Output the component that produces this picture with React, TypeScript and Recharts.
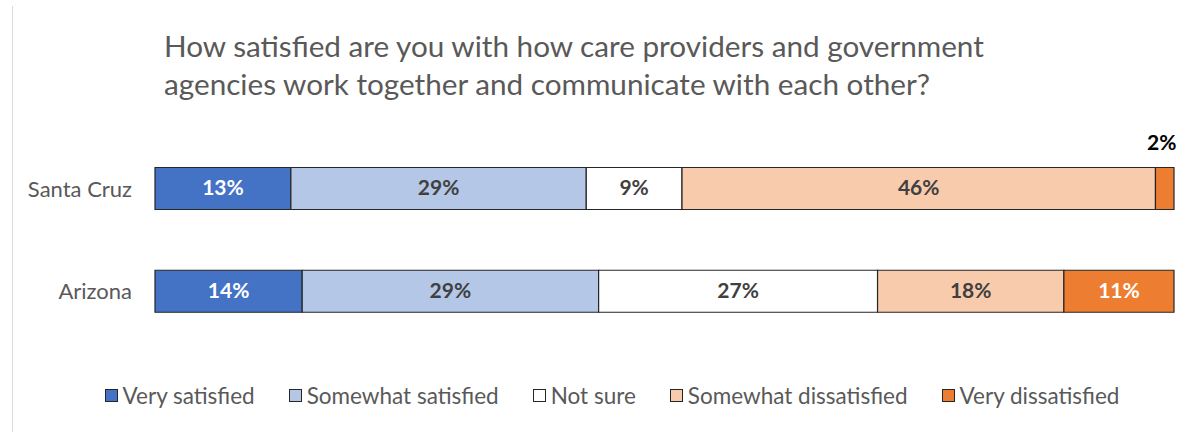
import React from "react"
import { BarChart, Bar, XAxis, YAxis, Legend, LabelList } from "recharts"

const categories = ["Santa Cruz", "Arizona"]
const verySatisfied = [13.2, 14.3]
const somewhatSatisfied = [28.7, 28.8]
const notSure = [9.3, 27.1]
const somewhatDissatisfied = [46.0, 18.1]
const veryDissatisfied = [1.8, 10.7]

const series = [
  { key: "vs", name: "Very satisfied", values: verySatisfied, fill: "#4472C4", text: "#FFFFFF" },
  { key: "ss", name: "Somewhat satisfied", values: somewhatSatisfied, fill: "#B4C7E7", text: "#404040" },
  { key: "ns", name: "Not sure", values: notSure, fill: "#FFFFFF", text: "#404040" },
  { key: "sd", name: "Somewhat dissatisfied", values: somewhatDissatisfied, fill: "#F8CBAD", text: "#404040" },
  { key: "vd", name: "Very dissatisfied", values: veryDissatisfied, fill: "#ED7D31", text: "#FFFFFF" },
]

const data = categories.map((name, i) => {
  const row: Record<string, any> = { name }
  series.forEach((s) => (row[s.key] = s.values[i]))
  return row
})

const FONT = "Lato, 'Open Sans', sans-serif"

const makeLabel = (color: string) => (props: any) => {
  const { x, y, width, height, value } = props
  const text = `${Math.round(value)}%`
  if (value < 5) {
    return (
      <text x={x + width / 2 - 3} y={y - 18} fill="#000" fontSize={21} fontWeight={700}
        textAnchor="middle" fontFamily={FONT}>
        {text}
      </text>
    )
  }
  return (
    <text x={x + width / 2} y={y + height / 2 + 1} fill={color} fontSize={21} fontWeight={700}
      textAnchor="middle" dominantBaseline="middle" fontFamily={FONT}>
      {text}
    </text>
  )
}

const renderLegend = () => (
  <div style={{ display: "flex", justifyContent: "center", paddingLeft: 72, fontFamily: FONT, fontSize: 22.5, color: "#595959" }}>
    {series.map((s) => (
      <div key={s.key} style={{ display: "flex", alignItems: "center", marginRight: 34 }}>
        <span style={{ width: 11, height: 11, background: s.fill, border: "1px solid #262626", marginRight: 5, display: "inline-block" }} />
        <span>{s.name}</span>
      </div>
    ))}
  </div>
)

export default function App() {
  return (
    <div style={{ position: "absolute", left: 0, top: 0, width: 1186, height: 432, background: "#fff", fontFamily: FONT }}>
      <div style={{ position: "absolute", left: 12, top: 6, bottom: 0, borderLeft: "1px solid #d9d9d9" }} />
      <div style={{ position: "absolute", left: 164, top: 27, fontSize: 29.7, lineHeight: "38px", color: "#595959", whiteSpace: "nowrap" }}>
        How satisfied are you with how care providers and government
        <br />
        agencies work together and communicate with each other?
      </div>
      <BarChart width={1186} height={432} data={data} layout="vertical"
        margin={{ top: 137.5, right: 12, bottom: 62, left: 0 }} barSize={42}>
        <XAxis type="number" domain={[0, 99]} hide />
        <YAxis type="category" dataKey="name" width={155} axisLine={false} tickLine={false}
          tickSize={0} tickMargin={23} tick={{ fill: "#595959", fontSize: 22, fontFamily: FONT }} />
        <Legend verticalAlign="bottom" content={renderLegend} wrapperStyle={{ top: 382, left: 0, width: 1186 }} />
        {series.map((s) => (
          <Bar key={s.key} dataKey={s.key} name={s.name} stackId="a" fill={s.fill}
            stroke="#262626" strokeWidth={1.2} isAnimationActive={false}>
            <LabelList dataKey={s.key} content={makeLabel(s.text)} />
          </Bar>
        ))}
      </BarChart>
    </div>
  )
}
